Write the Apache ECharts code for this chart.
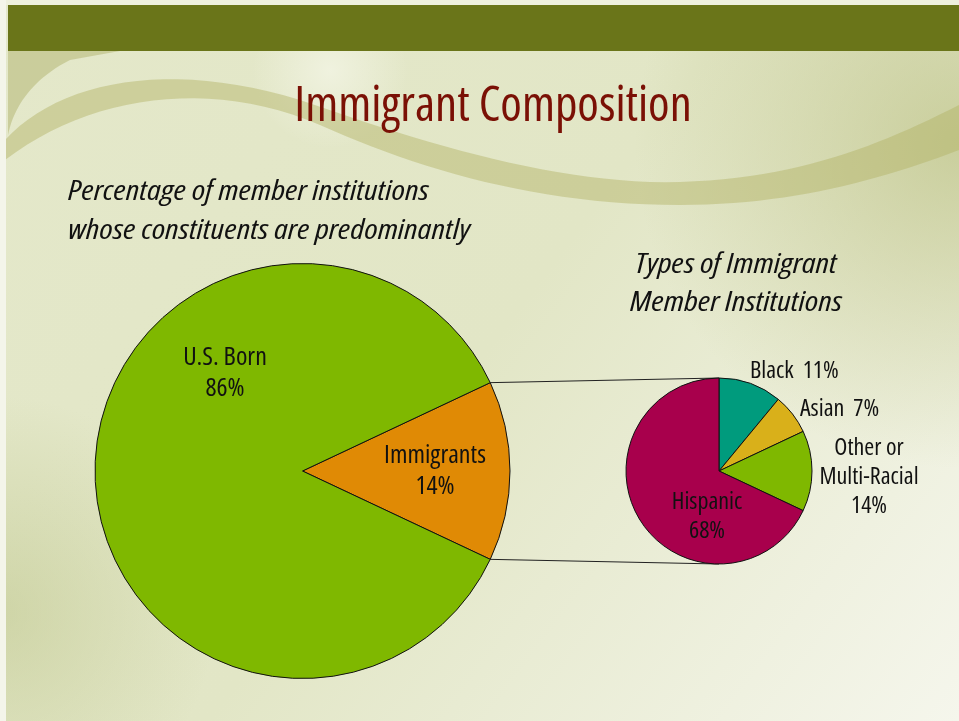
<!DOCTYPE html>
<html>
<head>
<meta charset="utf-8">
<script src="https://cdn.jsdelivr.net/npm/echarts@6/dist/echarts.min.js"></script>
<style>
html,body{margin:0;padding:0;background:#fff;}
#chart{width:959px;height:721px;}
</style>
</head>
<body>
<div id="chart"></div>
<script>
// ---- data ----
const mainCategories = ['Immigrants', 'U.S. Born'];
const mainValues = [14, 86];
const mainColors = ['#E08A05', '#7FB800'];

const subCategories = ['Black', 'Asian', 'Other or\nMulti-Racial', 'Hispanic'];
const subValues = [11, 7, 14, 68];
const subColors = ['#009B7D', '#D9B01A', '#7FB800', '#A8004C'];
const subInline = [true, true, false, false];

const titleText = 'Immigrant Composition';
const leftSubtitle = ['Percentage of member institutions', 'whose constituents are predominantly'];
const rightSubtitle = ['Types of Immigrant', 'Member Institutions'];

// ---- layout ----
const FAMILY = "'Open Sans'";
const bigC = [302.5, 471], bigR = 207.5;
const smallC = [719, 471], smallR = 93;
const mainLabelPos = [[435, 471], [225, 373]];
const subLabelPos = [
  {x: 750, y: 371, align: 'left'},
  {x: 800, y: 409, align: 'left'},
  {x: 869, y: 477, align: 'center'},
  {x: 707, y: 517, align: 'center'}
];

const total = mainValues.reduce((a, b) => a + b, 0);
const halfAngle = mainValues[0] / total * 180; // degrees
const startAngle = halfAngle;
const rad = halfAngle * Math.PI / 180;
const p1 = [bigC[0] + bigR * Math.cos(rad), bigC[1] - bigR * Math.sin(rad)];
const p2 = [bigC[0] + bigR * Math.cos(rad), bigC[1] + bigR * Math.sin(rad)];
const q1 = [smallC[0], smallC[1] - smallR];
const q2 = [smallC[0], smallC[1] + smallR];

// bezier helper for decorative background swoosh
function bez(segs) {
  const pts = [];
  segs.forEach(s => {
    for (let i = 0; i <= 24; i++) {
      const t = i / 24, u = 1 - t;
      pts.push([
        u*u*u*s[0][0] + 3*u*u*t*s[1][0] + 3*u*t*t*s[2][0] + t*t*t*s[3][0],
        u*u*u*s[0][1] + 3*u*u*t*s[1][1] + 3*u*t*t*s[2][1] + t*t*t*s[3][1]
      ]);
    }
  });
  return pts;
}
const bandTop = bez([
  [[5,140],[60,80],[170,60],[300,100]],
  [[300,100],[430,145],[560,185],[680,182]],
  [[680,182],[800,178],[880,145],[959,105]]
]);
const bandBot = bez([
  [[959,150],[880,180],[790,205],[680,205]],
  [[680,205],[540,205],[420,170],[320,125]],
  [[320,125],[210,78],[90,95],[5,160]]
]);
const cornerTop = bez([[[8,51],[40,51],[80,51],[120,51]]]);
const cornerBot = bez([[[70,60],[40,75],[15,100],[8,135]]]);

const chart = echarts.init(document.getElementById('chart'), null, {renderer: 'canvas'});

const graphics = [
  {type: 'rect', z: -20, shape: {x: 0, y: 0, width: 959, height: 721},
   style: {fill: new echarts.graphic.LinearGradient(0, 0, 1, 1, [
     {offset: 0, color: '#E4E8CA'},
     {offset: 0.5, color: '#E2E6C6'},
     {offset: 1, color: '#F5F6EC'}
   ])}},
  {type: 'rect', z: -19, shape: {x: 0, y: 0, width: 959, height: 721},
   style: {fill: new echarts.graphic.RadialGradient(1, 0.2, 0.45, [
     {offset: 0, color: 'rgba(180,186,118,0.6)'},
     {offset: 1, color: 'rgba(180,186,118,0)'}
   ])}},
  {type: 'rect', z: -19, shape: {x: 0, y: 0, width: 959, height: 721},
   style: {fill: new echarts.graphic.RadialGradient(0, 0.85, 0.3, [
     {offset: 0, color: 'rgba(190,198,140,0.55)'},
     {offset: 1, color: 'rgba(190,198,140,0)'}
   ])}},
  {type: 'rect', z: -19, shape: {x: 60, y: 51, width: 600, height: 130},
   style: {fill: new echarts.graphic.RadialGradient(0.45, 0.15, 0.6, [
     {offset: 0, color: 'rgba(248,249,238,0.6)'},
     {offset: 1, color: 'rgba(248,249,238,0)'}
   ])}},
  {type: 'polygon', z: -18, shape: {points: bandTop.concat(bandBot)},
   style: {fill: 'rgba(178,178,100,0.45)'}},
  {type: 'polygon', z: -18, shape: {points: cornerTop.concat(cornerBot)},
   style: {fill: 'rgba(170,172,100,0.45)'}},
  {type: 'rect', z: -17, shape: {x: 0, y: 0, width: 959, height: 5}, style: {fill: '#EEF0DD'}},
  {type: 'rect', z: -17, shape: {x: 0, y: 0, width: 6, height: 721}, style: {fill: '#F4F5EA'}},
  {type: 'rect', z: -16, shape: {x: 8, y: 5, width: 951, height: 46}, style: {fill: '#6A7519'}},
  {type: 'text', z: 10, x: 493, y: 107,
   style: {text: titleText, font: "condensed 49px " + FAMILY, fill: '#7A1005', align: 'center', verticalAlign: 'middle'}},
  {type: 'text', z: 10, x: 68, y: 212, scaleX: 1.19,
   style: {text: leftSubtitle.join('\n'), font: "italic condensed 28px " + FAMILY, lineHeight: 39, fill: '#111', align: 'left', verticalAlign: 'middle'}},
  {type: 'text', z: 10, x: 736, y: 284, scaleX: 1.19,
   style: {text: rightSubtitle.join('\n'), font: "italic condensed 28px " + FAMILY, lineHeight: 38, fill: '#111', align: 'center', verticalAlign: 'middle'}},
  {type: 'line', z: 1, shape: {x1: p1[0], y1: p1[1], x2: q1[0], y2: q1[1]}, style: {stroke: '#222', lineWidth: 1}},
  {type: 'line', z: 1, shape: {x1: p2[0], y1: p2[1], x2: q2[0], y2: q2[1]}, style: {stroke: '#222', lineWidth: 1}}
];

const option = {
  animation: false,
  graphic: graphics,
  series: [
    {
      type: 'pie',
      center: bigC,
      radius: bigR,
      startAngle: startAngle,
      clockwise: true,
      silent: true,
      itemStyle: {borderColor: '#111', borderWidth: 1},
      label: {
        show: true, position: 'inside',
        formatter: p => p.name + '\n' + p.value + '%',
        fontFamily: FAMILY, fontWeight: 'condensed', fontSize: 26, lineHeight: 31, color: '#111'
      },
      labelLine: {show: false},
      labelLayout: p => ({x: mainLabelPos[p.dataIndex][0], y: mainLabelPos[p.dataIndex][1], align: 'center', verticalAlign: 'middle'}),
      data: mainCategories.map((n, i) => ({name: n, value: mainValues[i], itemStyle: {color: mainColors[i]}}))
    },
    {
      type: 'pie',
      center: smallC,
      radius: smallR,
      startAngle: 90,
      clockwise: true,
      silent: true,
      itemStyle: {borderColor: '#111', borderWidth: 1},
      label: {
        show: true, position: 'inside',
        formatter: p => subInline[p.dataIndex] ? (p.name + '  ' + p.value + '%') : (p.name + '\n' + p.value + '%'),
        fontFamily: FAMILY, fontWeight: 'condensed', fontSize: 24, lineHeight: 29, color: '#111'
      },
      labelLine: {show: false},
      labelLayout: p => Object.assign({verticalAlign: 'middle'}, subLabelPos[p.dataIndex]),
      data: subCategories.map((n, i) => ({name: n, value: subValues[i], itemStyle: {color: subColors[i]}}))
    }
  ]
};
chart.setOption(option);
</script>
</body>
</html>
